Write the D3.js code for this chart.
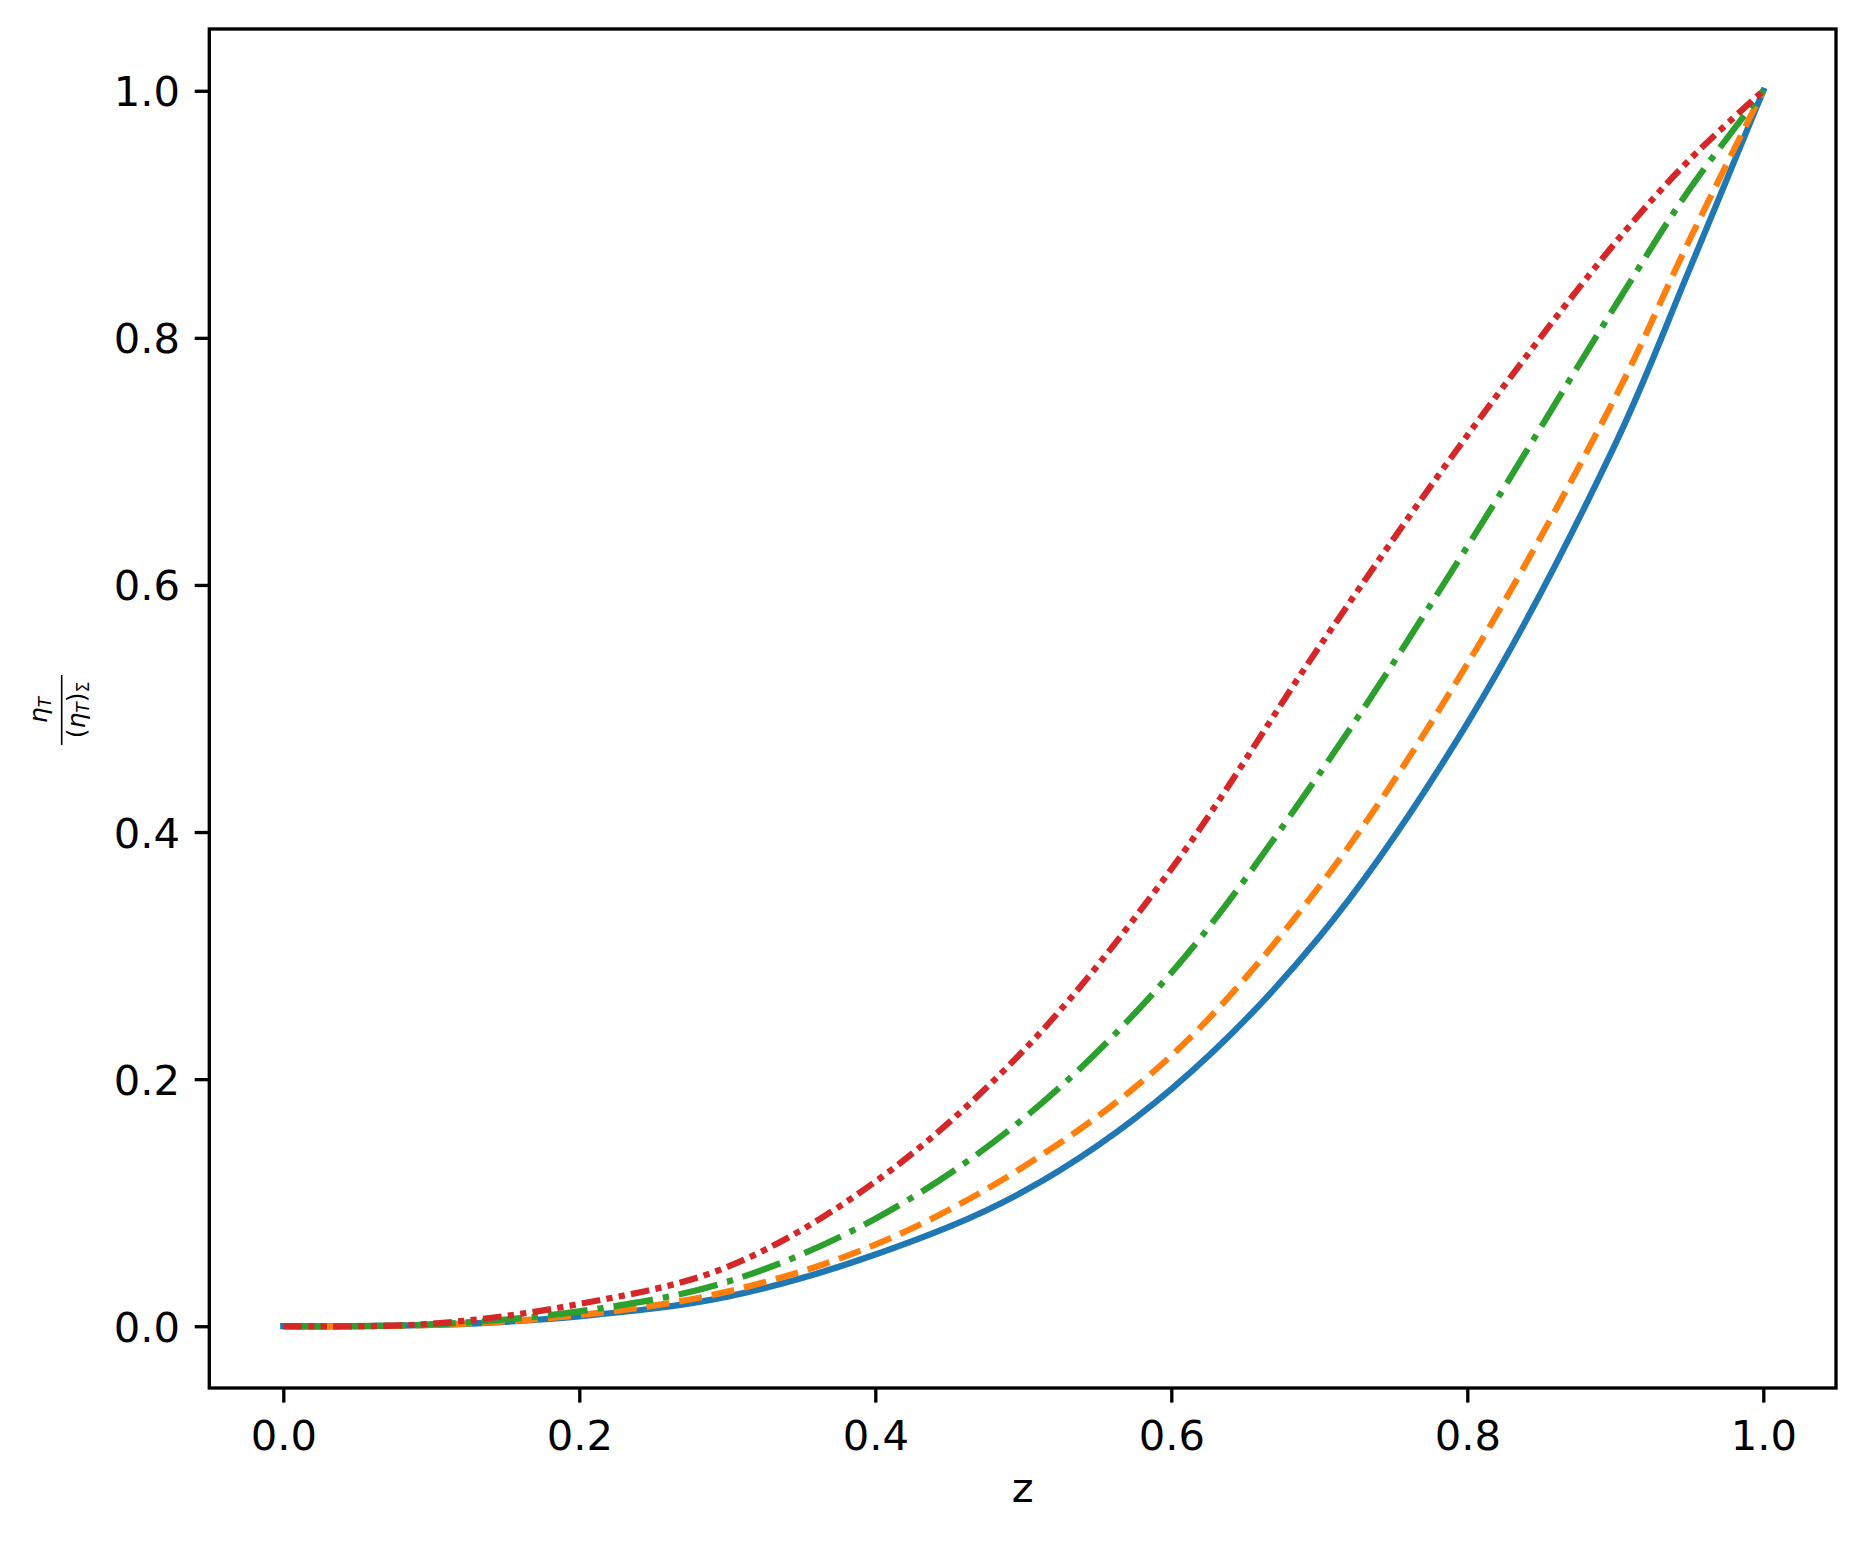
<!DOCTYPE html>
<html>
<head>
<meta charset="utf-8">
<script src="https://cdn.jsdelivr.net/npm/d3@7"></script>
<style>
  html, body { margin: 0; padding: 0; background: #fff; }
  svg { display: block; font-family: "DejaVu Sans", sans-serif; }
</style>
</head>
<body>
<svg id="chart" width="1866" height="1544"></svg>
<script>
// ---- data ----
const zValues   = [0, 0.1, 0.2, 0.3, 0.4, 0.5, 0.6, 0.7, 0.8, 0.9, 0.95, 1.0];
const seriesBlue   = [0, 0.001, 0.008, 0.024, 0.058, 0.109, 0.192, 0.315, 0.488, 0.714, 0.855, 1.0];
const seriesOrange = [0, 0.001, 0.009, 0.028, 0.066, 0.129, 0.219, 0.356, 0.536, 0.752, 0.879, 1.0];
const seriesGreen  = [0, 0.0015, 0.012, 0.036, 0.087, 0.168, 0.286, 0.447, 0.631, 0.826, 0.920, 1.0];
const seriesRed    = [0, 0.002, 0.018, 0.048, 0.117, 0.223, 0.370, 0.550, 0.721, 0.877, 0.944, 1.0];
const xTicks = [0, 0.2, 0.4, 0.6, 0.8, 1.0];
const yTicks = [0, 0.2, 0.4, 0.6, 0.8, 1.0];
const xLabel = "z";

// ---- layout ----
const L = 209.3, R = 1836, T = 29, B = 1388;
const svg = d3.select("#chart");
const x = d3.scaleLinear().domain([-0.05, 1.05]).range([L, R + 1.3]);
const y = d3.scaleLinear().domain([-0.05, 1.05]).range([B, T]);

const lw = 6.25;
const series = [
  { values: seriesBlue,   color: "#1f77b4", dash: null, cap: "square" },
  { values: seriesOrange, color: "#ff7f0e", dash: "23.1,10", cap: "butt" },
  { values: seriesGreen,  color: "#2ca02c", dash: "40,10,6.25,10", cap: "butt" },
  { values: seriesRed,    color: "#d62728", dash: "18.75,6.25,6.25,6.25,6.25,6.25", cap: "butt" }
];

const line = d3.line()
  .x(d => x(d[0]))
  .y(d => y(d[1]))
  .curve(d3.curveCatmullRom.alpha(0.5));

const gLines = svg.append("g");
series.forEach(s => {
  const pts = zValues.map((z, i) => [z, s.values[i]]);
  gLines.append("path")
    .attr("d", line(pts))
    .attr("fill", "none")
    .attr("stroke", s.color)
    .attr("stroke-width", lw)
    .attr("stroke-linecap", s.cap)
    .attr("stroke-linejoin", "round")
    .attr("stroke-dasharray", s.dash);
});

// ---- axes ----
const tickLen = 14.6, tickPad = 14.6, axW = 3.33, fs = 41.7;
const xAxis = d3.axisBottom(x).tickValues(xTicks).tickFormat(d3.format(".1f"))
  .tickSize(tickLen).tickPadding(tickPad);
const yAxis = d3.axisLeft(y).tickValues(yTicks).tickFormat(d3.format(".1f"))
  .tickSize(tickLen).tickPadding(tickPad);

const gx = svg.append("g").attr("transform", `translate(0,${B})`).call(xAxis);
const gy = svg.append("g").attr("transform", `translate(${L},0)`).call(yAxis);
[gx, gy].forEach(g => {
  g.select(".domain").remove();
  g.selectAll(".tick line").attr("stroke", "#000").attr("stroke-width", axW);
  g.selectAll(".tick text")
    .attr("fill", "#000")
    .style("font-family", "DejaVu Sans")
    .style("font-size", fs + "px");
});
gx.selectAll(".tick text").attr("dy", null).attr("y", null)
  .attr("transform", `translate(0,${1450 - B})`);
gy.selectAll(".tick text").attr("dy", "0.36em");

// frame
svg.append("rect")
  .attr("x", L).attr("y", T)
  .attr("width", R - L).attr("height", B - T)
  .attr("fill", "none").attr("stroke", "#000").attr("stroke-width", axW);

// x label
svg.append("text")
  .attr("x", (L + R) / 2).attr("y", 1502)
  .attr("text-anchor", "middle")
  .style("font-family", "DejaVu Sans")
  .style("font-size", fs + "px")
  .text(xLabel);

// y label: fraction  eta_T / (eta_T)_Sigma
const gyl = svg.append("g").attr("transform", "translate(61.7,710) rotate(-90)");
gyl.append("line").attr("x1", -35).attr("x2", 35).attr("y1", 0).attr("y2", 0)
  .attr("stroke", "#000").attr("stroke-width", 1.6);
const num = gyl.append("text").attr("x", 0).attr("y", -15)
  .attr("text-anchor", "middle")
  .style("font-family", "DejaVu Sans").style("font-size", "25px");
num.append("tspan").style("font-style", "italic").text("η");
num.append("tspan").attr("dy", 4).style("font-size", "17px").style("font-style", "italic").text("T");

const den = gyl.append("text").attr("x", 0).attr("y", 23)
  .attr("text-anchor", "middle")
  .style("font-family", "DejaVu Sans").style("font-size", "25px");
den.append("tspan").text("(");
den.append("tspan").style("font-style", "italic").text("η");
den.append("tspan").attr("dy", 4).style("font-size", "17px").style("font-style", "italic").text("T");
den.append("tspan").attr("dy", -4).text(")");
den.append("tspan").attr("dy", 4).style("font-size", "17px").text("Σ");
</script>
</body>
</html>
